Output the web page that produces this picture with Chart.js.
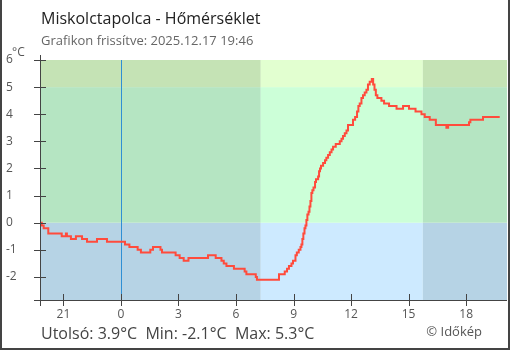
<!DOCTYPE html>
<html>
<head>
<meta charset="utf-8">
<script src="https://cdn.jsdelivr.net/npm/chart.js@4"></script>
<style>
  html, body { margin: 0; padding: 0; background: #fff; }
  #wrap { width: 510px; height: 350px; }
</style>
</head>
<body>
<div id="wrap"><canvas id="c" width="510" height="350"></canvas></div>
<script>
// Station and update stamp
const stationName = 'Miskolctapolca';
const updatedAt = '2025.12.17 19:46';

// Temperature readings: hours relative to today's midnight (negative = yesterday evening),
// each value holds until the next reading
const hours = [
  -4.17, -4.13, -4.03, -3.79, -3.09, -2.87, -2.82, -2.61, -2.35, -2.03,
  -1.77, -1.25, -0.73, 0.21, 0.44, 0.87, 1.04, 1.53, 1.67, 2.06,
  2.14, 2.85, 3.06, 3.27, 3.52, 4.54, 4.94, 5.24, 5.36, 5.50,
  5.89, 6.45, 6.54, 7.03, 7.09, 8.24, 8.54, 8.66, 8.76, 8.89,
  8.97, 9.10, 9.17, 9.27, 9.36, 9.41, 9.46, 9.51, 9.57, 9.62,
  9.67, 9.72, 9.78, 9.83, 9.88, 9.93, 9.98, 10.04, 10.12, 10.17,
  10.28, 10.33, 10.38, 10.43, 10.54, 10.64, 10.71, 10.80, 10.89, 10.98,
  11.06, 11.20, 11.41, 11.50, 11.58, 11.67, 11.76, 11.84, 12.10, 12.21,
  12.31, 12.38, 12.45, 12.54, 12.62, 12.71, 12.80, 12.88, 12.97, 13.08,
  13.15, 13.22, 13.29, 13.37, 13.58, 13.72, 13.98, 14.37, 14.71, 15.02,
  15.36, 15.67, 15.84, 16.10, 16.42, 16.97, 17.06, 18.15, 18.22, 18.88,
  19.75
];
const temps = [
  0.0, -0.1, -0.2, -0.4, -0.5, -0.4, -0.5, -0.6, -0.5, -0.6,
  -0.7, -0.6, -0.7, -0.8, -0.9, -1.0, -1.1, -1.0, -0.9, -1.0,
  -1.1, -1.2, -1.3, -1.4, -1.3, -1.2, -1.3, -1.4, -1.5, -1.6,
  -1.7, -1.8, -1.9, -2.0, -2.1, -1.9, -1.8, -1.7, -1.6, -1.5,
  -1.4, -1.2, -1.1, -1.0, -0.9, -0.8, -0.6, -0.4, -0.2, -0.1,
  0.1, 0.3, 0.4, 0.6, 0.8, 1.1, 1.2, 1.3, 1.5, 1.6,
  1.7, 1.9, 2.0, 2.1, 2.2, 2.3, 2.4, 2.5, 2.6, 2.7,
  2.8, 2.9, 3.0, 3.1, 3.2, 3.3, 3.4, 3.6, 3.8, 3.9,
  4.1, 4.3, 4.4, 4.6, 4.7, 4.8, 4.9, 5.1, 5.2, 5.3,
  5.1, 4.9, 4.7, 4.6, 4.5, 4.4, 4.3, 4.2, 4.3, 4.2,
  4.1, 4.0, 3.9, 3.8, 3.6, 3.5, 3.6, 3.7, 3.8, 3.9,
  3.9
];

// Axis ticks
const xTickValues = [-3, 0, 3, 6, 9, 12, 15, 18];
const xTickLabels = ['21', '0', '3', '6', '9', '12', '15', '18'];
const yTickValues = [-2, -1, 0, 1, 2, 3, 4, 5, 6];
const yTickLabels = ['-2', '-1', '0', '1', '2', '3', '4', '5', '6'];

// Daylight window (hours) and temperature band limits
const sunriseHour = 7.29;
const sunsetHour = 15.74;
const bandLimits = [0, 5];

const FONT = '"Open Sans", "Noto Sans", sans-serif';

const bands = {
  night: ['#b6d3e5', '#b5e5c2', '#c5e3b5'],
  day:   ['#cdeaff', '#ccffd8', '#e2ffd0']
};

const decorPlugin = {
  id: 'decor',
  beforeDraw(chart) {
    const ctx = chart.ctx;
    const { left, right, top, bottom } = chart.chartArea;
    const xs = chart.scales.x, ys = chart.scales.y;
    ctx.save();
    ctx.fillStyle = '#fff';
    ctx.fillRect(0, 0, chart.width, chart.height);

    const xRise = xs.getPixelForValue(sunriseHour);
    const xSet = xs.getPixelForValue(sunsetHour);
    const yLow = ys.getPixelForValue(bandLimits[0]);
    const yHigh = ys.getPixelForValue(bandLimits[1]);
    const cols = [[left, xRise, 'night'], [xRise, xSet, 'day'], [xSet, right, 'night']];
    const rows = [[yLow, bottom], [yHigh, yLow], [top, yHigh]];
    cols.forEach(([x0, x1, kind]) => {
      rows.forEach(([y0, y1], i) => {
        ctx.fillStyle = bands[kind][i];
        ctx.fillRect(x0, y0, x1 - x0, y1 - y0);
      });
    });
    ctx.restore();
  },
  beforeDatasetsDraw(chart) {
    // midnight marker
    const ctx = chart.ctx;
    const { top, bottom } = chart.chartArea;
    const x = Math.round(chart.scales.x.getPixelForValue(0));
    ctx.save();
    ctx.fillStyle = '#2f8fd4';
    ctx.fillRect(x, top, 1, bottom - top);
    ctx.restore();
  },
  afterDraw(chart) {
    const ctx = chart.ctx;
    const { left, right, top, bottom } = chart.chartArea;
    const xs = chart.scales.x, ys = chart.scales.y;
    const axisX = Math.round(left) - 1;
    const axisY = Math.round(bottom);
    ctx.save();

    // axis lines and tick marks
    ctx.fillStyle = '#444';
    ctx.fillRect(axisX, top - 5, 1, bottom - top + 11);
    ctx.fillRect(axisX - 6, axisY, right - axisX + 6, 1);
    yTickValues.forEach(v => {
      const y = Math.round(ys.getPixelForValue(v));
      ctx.fillRect(axisX - 6, y, 12, 1);
    });
    xTickValues.forEach(v => {
      const x = Math.round(xs.getPixelForValue(v));
      ctx.fillRect(x, axisY - 6, 1, 12);
    });

    // tick labels
    ctx.fillStyle = '#555';
    ctx.font = '12px ' + FONT;
    ctx.textBaseline = 'middle';
    ctx.textAlign = 'left';
    yTickValues.forEach((v, i) => {
      ctx.fillText(yTickLabels[i], 6, ys.getPixelForValue(v));
    });
    ctx.textAlign = 'center';
    xTickValues.forEach((v, i) => {
      ctx.fillText(xTickLabels[i], xs.getPixelForValue(v), 315);
    });
    ctx.textAlign = 'left';
    ctx.textBaseline = 'alphabetic';
    ctx.fillText('°C', 12, 56);

    // title block
    ctx.fillStyle = '#222';
    ctx.font = '16px ' + FONT;
    ctx.fillText(stationName + ' - Hőmérséklet', 41, 24);
    ctx.fillStyle = '#666';
    ctx.font = '13px ' + FONT;
    ctx.fillText('Grafikon frissítve: ' + updatedAt, 41, 45);

    // summary line
    const last = temps[temps.length - 1];
    const minT = Math.min(...temps);
    const maxT = Math.max(...temps);
    ctx.fillStyle = '#444';
    ctx.font = '16px ' + FONT;
    ctx.fillText('Utolsó: ' + last.toFixed(1) + '°C  Min: ' + minT.toFixed(1) +
      '°C  Max: ' + maxT.toFixed(1) + '°C', 41, 339);
    ctx.fillStyle = '#555';
    ctx.font = '13px ' + FONT;
    ctx.textAlign = 'right';
    ctx.fillText('© Időkép', 482, 336);

    // frame
    ctx.fillStyle = '#444';
    ctx.fillRect(0, 0, 2, chart.height);
    ctx.fillRect(chart.width - 2, 0, 2, chart.height);
    ctx.fillRect(0, chart.height - 2, chart.width, 2);
    ctx.restore();
  }
};

new Chart(document.getElementById('c'), {
  type: 'line',
  data: {
    datasets: [{
      data: hours.map((h, i) => ({ x: h, y: temps[i] })),
      borderColor: '#ff4b3c',
      borderWidth: 2,
      pointRadius: 0,
      stepped: 'before',
      fill: false
    }]
  },
  options: {
    responsive: false,
    animation: false,
    layout: { padding: { left: 41, right: 3, top: 60, bottom: 50 } },
    scales: {
      x: { type: 'linear', min: -4.17, max: 20.13, display: false },
      y: { min: -2.85, max: 6, display: false }
    },
    plugins: { legend: { display: false }, tooltip: { enabled: false } }
  },
  plugins: [decorPlugin]
});
</script>
</body>
</html>
